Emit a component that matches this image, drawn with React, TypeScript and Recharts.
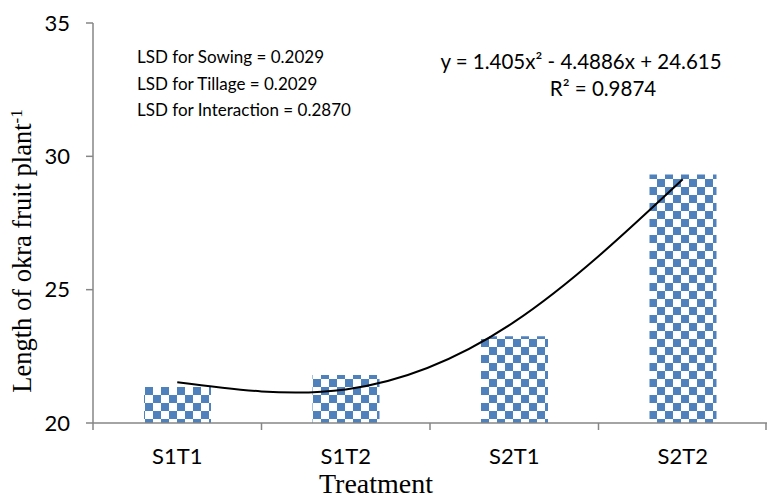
import { Bar, ComposedChart, Line, XAxis, YAxis } from 'recharts'

const categories = ['S1T1', 'S1T2', 'S2T1', 'S2T2']
const lengthValues = [21.35, 21.8, 23.25, 29.32]
// polynomial trendline as drawn on the chart, read at each treatment
const trendValues = [21.53, 21.26, 23.79, 29.14]
const yTicks = [20, 25, 30, 35]
const lsdLines = ['LSD for Sowing = 0.2029', 'LSD for Tillage = 0.2029', 'LSD for Interaction = 0.2870']

const data = categories.map((c, i) => ({ name: c, value: lengthValues[i], trend: trendValues[i] }))

const W = 767
const H = 500
const AXIS_W = 93
const PLOT_W = W - AXIS_W
const HALF_BAND = PLOT_W / categories.length / 2
const SANS = 'Lato, "Open Sans", sans-serif'
const SERIF = '"Liberation Serif", "DejaVu Serif", serif'

function CategoryTick(props: any) {
  const { x, y, payload, index } = props
  const last = index === categories.length - 1
  return (
    <g>
      <line x1={x - HALF_BAND} x2={x - HALF_BAND} y1={y - 8} y2={y - 1} stroke="#868686" strokeWidth={1.5} />
      {last && <line x1={x + HALF_BAND - 1} x2={x + HALF_BAND - 1} y1={y - 8} y2={y - 1} stroke="#868686" strokeWidth={1.5} />}
      <text x={x} y={y + 33} textAnchor="middle" fontSize={22} fontFamily={SANS} fill="#000">
        {payload.value}
      </text>
    </g>
  )
}

export default function App() {
  return (
    <div style={{ position: 'absolute', left: 0, top: 0, width: W, height: H, background: '#fff' }}>
      <ComposedChart width={W} height={H} data={data} margin={{ top: 23, right: 0, bottom: 47, left: 0 }}>
        <defs>
          <pattern id="checker" patternUnits="userSpaceOnUse" width={16} height={16} x={1} y={3}>
            <rect x={0} y={0} width={16} height={16} fill="#fff" />
            <rect x={0} y={0} width={8} height={8} fill="#4F81BD" />
            <rect x={8} y={8} width={8} height={8} fill="#4F81BD" />
          </pattern>
        </defs>
        <XAxis
          dataKey="name"
          height={30}
          axisLine={{ stroke: '#868686', strokeWidth: 1.5 }}
          tickLine={false}
          tick={<CategoryTick />}
          interval={0}
        />
        <YAxis
          width={AXIS_W}
          domain={[20, 35]}
          ticks={yTicks}
          allowDataOverflow
          axisLine={{ stroke: '#868686', strokeWidth: 1.5 }}
          tickLine={{ stroke: '#868686', strokeWidth: 1.5 }}
          tickSize={7}
          tickMargin={16}
          tick={{ fill: '#000', fontSize: 22, fontFamily: SANS }}
        />
        <Bar dataKey="value" barSize={67} fill="url(#checker)" isAnimationActive={false} />
        <Line
          dataKey="trend"
          type="natural"
          stroke="#000"
          strokeWidth={2}
          dot={false}
          activeDot={false}
          isAnimationActive={false}
        />
      </ComposedChart>
      <svg width={W} height={H} style={{ position: 'absolute', left: 0, top: 0, pointerEvents: 'none' }}>
        {lsdLines.map((t, i) => (
          <text key={t} x={137} y={63 + i * 26.5} fontSize={17} fontFamily={SANS} fill="#000">
            {t}
          </text>
        ))}
        <text x={581} y={69} textAnchor="middle" fontSize={20.5} fontFamily={SANS} fill="#000">
          y = 1.405x² - 4.4886x + 24.615
        </text>
        <text x={603} y={96} textAnchor="middle" fontSize={20.5} fontFamily={SANS} fill="#000">
          R² = 0.9874
        </text>
        <text x={376} y={493} textAnchor="middle" fontSize={28} fontFamily={SERIF} fill="#000">
          Treatment
        </text>
        <text
          transform="translate(31 251) rotate(-90)"
          textAnchor="middle"
          fontSize={26.5}
          fontFamily={SERIF}
          fill="#000"
        >
          Length of okra fruit plant<tspan dy={-9} fontSize={17}>-1</tspan>
        </text>
      </svg>
    </div>
  )
}
